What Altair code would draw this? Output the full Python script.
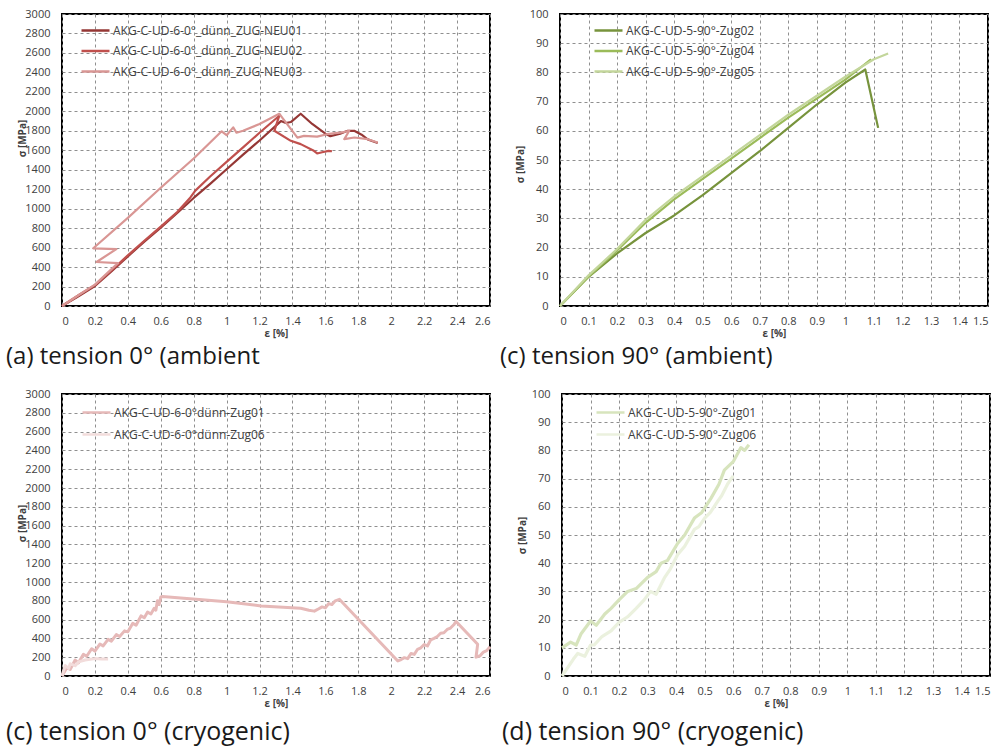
import altair as alt
import pandas as pd

# ---------------- data ----------------
# (a) tension 0° ambient
A_NAMES = ["AKG-C-UD-6-0°_dünn_ZUG-NEU01", "AKG-C-UD-6-0°_dünn_ZUG-NEU02", "AKG-C-UD-6-0°_dünn_ZUG-NEU03"]
A_COLORS = ["#953735", "#C0504D", "#D99694"]
A1_X = [0, 0.1, 0.2, 0.3, 0.4, 0.5, 0.6, 0.7, 0.8, 0.9, 1.0, 1.1, 1.2, 1.33, 1.36, 1.39, 1.45, 1.52, 1.60, 1.63, 1.69, 1.735, 1.775, 1.82, 1.857, 1.918]
A1_Y = [0, 100, 205, 355, 510, 660, 805, 955, 1110, 1255, 1405, 1555, 1700, 1900, 1880, 1890, 1975, 1870, 1770, 1745, 1770, 1800, 1800, 1760, 1712, 1675]
A2_X = [0, 0.1, 0.2, 0.3, 0.4, 0.5, 0.6, 0.7, 0.78, 0.81, 0.9, 1.0, 1.1, 1.2, 1.32, 1.29, 1.39, 1.45, 1.53, 1.55, 1.58, 1.62, 1.64]
A2_Y = [0, 110, 215, 365, 520, 670, 815, 965, 1115, 1185, 1330, 1480, 1630, 1780, 1955, 1800, 1697, 1663, 1594, 1567, 1580, 1594, 1590]
A3_X = [0, 0.1, 0.2, 0.34, 0.21, 0.33, 0.19, 0.4, 0.6, 0.8, 0.97, 1.0, 1.04, 1.06, 1.1, 1.2, 1.32, 1.34, 1.43, 1.47, 1.55, 1.61, 1.70, 1.745, 1.715, 1.776, 1.857, 1.918]
A3_Y = [0, 110, 220, 440, 452, 585, 593, 905, 1215, 1515, 1795, 1755, 1835, 1780, 1800, 1870, 1975, 1930, 1730, 1748, 1740, 1765, 1783, 1800, 1714, 1731, 1714, 1680]

# (b) tension 90° ambient
B_NAMES = ["AKG-C-UD-5-90°-Zug02", "AKG-C-UD-5-90°-Zug04", "AKG-C-UD-5-90°-Zug05"]
B_COLORS = ["#77933C", "#9BBB59", "#C3D69B"]
B1_X = [0, 0.1, 0.2, 0.3, 0.4, 0.5, 0.6, 0.7, 0.8, 0.9, 1.0, 1.07, 1.115]
B1_Y = [0, 10, 18, 25, 31, 38, 45.5, 53, 61, 69, 76.5, 81, 61]
B2_X = [0, 0.1, 0.2, 0.3, 0.4, 0.5, 0.6, 0.7, 0.8, 0.9, 1.0, 1.09]
B2_Y = [0, 10, 19, 28.5, 36.5, 43.5, 50.5, 57.5, 64.5, 71, 77.5, 84.5]
B3_X = [0, 0.1, 0.2, 0.3, 0.4, 0.5, 0.6, 0.7, 0.8, 0.9, 1.0, 1.1, 1.15]
B3_Y = [0, 10.5, 19.5, 29.5, 37.5, 44.5, 51.5, 58.5, 65.5, 72, 78.5, 84.5, 86.5]

# (c) tension 0° cryogenic
C_NAMES = ["AKG-C-UD-6-0°dünn-Zug01", "AKG-C-UD-6-0°dünn-Zug06"]
C_COLORS = ["#E6B9B8", "#F2DCDB"]
C1_X = [0, 0.03, 0.05, 0.08, 0.1, 0.13, 0.15, 0.18, 0.2, 0.23, 0.25, 0.28, 0.3, 0.33, 0.35, 0.38,
        0.4, 0.43, 0.45, 0.48, 0.5, 0.52, 0.54, 0.56, 0.57, 0.58, 0.59, 0.6, 0.61,
        1.0, 1.21, 1.45, 1.50, 1.533, 1.56, 1.58, 1.6, 1.62, 1.64, 1.66, 1.685,
        2.04, 2.06, 2.08, 2.1, 2.12, 2.14, 2.16, 2.18, 2.2, 2.22, 2.24, 2.26, 2.28, 2.3, 2.32, 2.34, 2.36, 2.38, 2.394,
        2.525, 2.515, 2.54, 2.56, 2.58, 2.6]
C1_Y = [0, 90, 70, 170, 140, 230, 210, 290, 265, 340, 320, 390, 370, 440, 420, 480,
        470, 560, 540, 640, 620, 680, 660, 720, 700, 800, 760, 840, 845,
        790, 745, 720, 700, 690, 715, 735, 725, 770, 760, 800, 816,
        160, 175, 195, 185, 240, 230, 284, 300, 335, 320, 385, 400, 420, 455, 460, 495, 510, 545, 580,
        337, 200, 215, 255, 270, 310]
C2_X = [0, 0.01, 0.02, 0.04, 0.05, 0.08, 0.1, 0.14, 0.2, 0.24, 0.28]
C2_Y = [0, 60, 110, 80, 130, 110, 150, 170, 185, 180, 182]

# (d) tension 90° cryogenic
D_NAMES = ["AKG-C-UD-5-90°-Zug01", "AKG-C-UD-5-90°-Zug06"]
D_COLORS = ["#D7E4BD", "#EBF1DE"]
D1_X = [0, 0.03, 0.05, 0.067, 0.1, 0.12, 0.15, 0.172, 0.2, 0.23, 0.26, 0.3, 0.33, 0.347, 0.37, 0.405,
        0.43, 0.464, 0.49, 0.522, 0.55, 0.569, 0.6, 0.627, 0.64, 0.655]
D1_Y = [10, 12, 11, 15, 19.5, 18, 22, 24, 27, 30, 31, 35, 37, 40, 41, 47,
        50, 56, 58, 63, 68, 73, 76, 81, 80, 82]
D2_X = [0, 0.02, 0.04, 0.055, 0.08, 0.1, 0.113, 0.14, 0.172, 0.2, 0.23, 0.26, 0.288, 0.31, 0.33, 0.36,
        0.38, 0.405, 0.43, 0.464, 0.48, 0.5, 0.52, 0.546, 0.56, 0.58, 0.6]
D2_Y = [0, 3, 6, 8, 7, 11, 11, 14, 16, 19, 21, 24, 27, 30, 29, 35,
        38, 43, 46, 52, 53, 56, 58, 62, 64, 68, 71]

# axis ticks
X_TICKS_0 = [0, 0.2, 0.4, 0.6, 0.8, 1.0, 1.2, 1.4, 1.6, 1.8, 2.0, 2.2, 2.4, 2.6]
X_TICKS_90 = [0, 0.1, 0.2, 0.3, 0.4, 0.5, 0.6, 0.7, 0.8, 0.9, 1.0, 1.1, 1.2, 1.3, 1.4, 1.5]
Y_TICKS_0 = list(range(0, 3001, 200))
Y_TICKS_90 = list(range(0, 101, 10))

CAPTIONS = ["(a) tension 0° (ambient", "(c) tension 90° (ambient)",
            "(c) tension 0° (cryogenic)", "(d) tension 90° (cryogenic)"]

FONT = "Open Sans"


def make_df(names, xs_list, ys_list):
    rows = []
    for name, xs, ys in zip(names, xs_list, ys_list):
        for i, (x, y) in enumerate(zip(xs, ys)):
            rows.append({"s": name, "x": x, "y": y, "i": i})
    return pd.DataFrame(rows)


def panel(df, names, colors, xmax, xticks, ymax, yticks, h, caption, sw,
          leg_x, leg_y, row_pad, title_y, cap_dx, cap_size, cap_off):
    return alt.Chart(df).mark_line(strokeWidth=sw, strokeJoin="round").encode(
        x=alt.X("x:Q", scale=alt.Scale(domain=[0, xmax], nice=False, zero=False),
                axis=alt.Axis(values=xticks, format=".1~f", title="ε [%]")),
        y=alt.Y("y:Q", scale=alt.Scale(domain=[0, ymax], nice=False),
                axis=alt.Axis(values=yticks, format="d", title="σ [MPa]",
                              titleX=-40, titleY=title_y, titleAngle=270,
                              titleAlign="center", titleBaseline="middle")),
        color=alt.Color("s:N", scale=alt.Scale(domain=names, range=colors),
                        legend=alt.Legend(title=None, orient="none", legendX=leg_x, legendY=leg_y,
                                          rowPadding=row_pad)),
        order="i:Q",
    ).properties(
        width=428, height=h,
        title=alt.TitleParams(caption, orient="bottom", anchor="start", frame="bounds",
                              dx=cap_dx, offset=cap_off, fontSize=cap_size),
    )


pa = panel(make_df(A_NAMES, [A1_X, A2_X, A3_X], [A1_Y, A2_Y, A3_Y]), A_NAMES, A_COLORS,
           2.6, X_TICKS_0, 3000, Y_TICKS_0, 292, CAPTIONS[0], 2.2, 25, 8, 5.5, 124, -11, 24, 7)
pb = panel(make_df(B_NAMES, [B1_X, B2_X, B3_X], [B1_Y, B2_Y, B3_Y]), B_NAMES, B_COLORS,
           1.5, X_TICKS_90, 100, Y_TICKS_90, 292, CAPTIONS[1], 2.2, 40, 8, 5.5, 150, -15, 24, 7)
pc = panel(make_df(C_NAMES, [C1_X, C2_X], [C1_Y, C2_Y]), C_NAMES, C_COLORS,
           2.6, X_TICKS_0, 3000, Y_TICKS_0, 282, CAPTIONS[2], 3, 26, 10, 7, 129, -11, 25, 12)
pd_ = panel(make_df(D_NAMES, [D1_X, D2_X], [D1_Y, D2_Y]), D_NAMES, D_COLORS,
            1.5, X_TICKS_90, 100, Y_TICKS_90, 282, CAPTIONS[3], 3.2, 40, 10, 7, 141, -15, 25, 12)

top = alt.hconcat(pa, pb, spacing=8).resolve_scale(color="independent").resolve_legend(color="independent")
bottom = alt.hconcat(pc, pd_, spacing=8).resolve_scale(color="independent").resolve_legend(color="independent")

chart = alt.vconcat(top, bottom, spacing=17).resolve_scale(color="independent").resolve_legend(
    color="independent"
).properties(
    padding={"left": 5, "top": 7, "right": 5, "bottom": 0},
    background="white",
).configure_view(
    stroke="black", strokeWidth=2
).configure_axis(
    grid=True, gridDash=[3, 3], gridColor="#8f8f8f", gridWidth=1,
    ticks=False, domain=False,
    labelFont=FONT, labelFontSize=11, labelColor="#404040", labelPadding=9,
    titleFont=FONT, titleFontSize=10, titleFontWeight="bold", titleColor="#404040",
    titlePadding=2,
).configure_axisY(
    labelPadding=12
).configure_legend(
    labelFont=FONT, labelFontSize=12, labelColor="#404040", labelLimit=0,
    symbolType="M-2,0H2", symbolSize=196, symbolStrokeWidth=2.5, labelOffset=9, padding=0,
).configure_title(
    font=FONT, fontWeight="normal", color="#1a1a1a"
)

chart.save("out.html", embed_options={"renderer": "svg", "actions": False})
